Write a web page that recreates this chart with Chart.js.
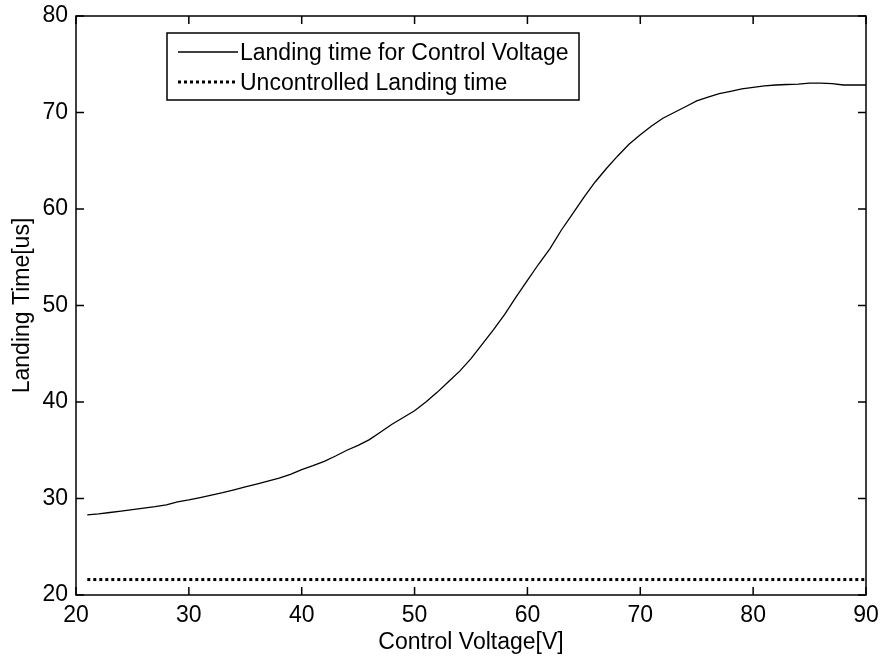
<!DOCTYPE html>
<html lang="en">

<head>
    <meta charset="UTF-8">
    <title>Landing time vs control voltage</title>
    <script src="https://cdn.jsdelivr.net/npm/chart.js"></script>
    <style>
        html, body {
            margin: 0;
            padding: 0;
            background: #fff;
        }

        #contenedor {
            width: 882px;
            height: 659px;
        }
    </style>
</head>

<body>
    <div id="contenedor">
        <canvas id="canvas" width="882" height="659"></canvas>
    </div>

    <script>
        // control voltage [V]
        const voltaje = [21, 22, 23, 24, 25, 26, 27, 28, 29, 30,
            31, 32, 33, 34, 35, 36, 37, 38, 39, 40,
            41, 42, 43, 44, 45, 46, 47, 48, 49, 50,
            51, 52, 53, 54, 55, 56, 57, 58, 59, 60,
            61, 62, 63, 64, 65, 66, 67, 68, 69, 70,
            71, 72, 73, 74, 75, 76, 77, 78, 79, 80,
            81, 82, 83, 84, 85, 86, 87, 88, 89, 90]
        // landing time [us] for each control voltage
        const tiempoControl = [28.3, 28.4, 28.55, 28.7, 28.85, 29.0, 29.15, 29.35, 29.65, 29.85,
            30.1, 30.35, 30.6, 30.9, 31.2, 31.5, 31.8, 32.1, 32.5, 33.0,
            33.4, 33.85, 34.4, 35.0, 35.5, 36.1, 36.9, 37.7, 38.4, 39.1,
            40.0, 41.0, 42.1, 43.2, 44.5, 46.0, 47.5, 49.1, 50.9, 52.6,
            54.3, 55.9, 57.8, 59.5, 61.2, 62.8, 64.2, 65.5, 66.7, 67.7,
            68.6, 69.4, 70.0, 70.6, 71.2, 71.6, 71.95, 72.2, 72.45, 72.6,
            72.75, 72.85, 72.9, 72.95, 73.05, 73.05, 73.0, 72.85, 72.85, 72.85]
        // uncontrolled landing time (constant)
        const voltajeSinControl = [21, 90]
        const tiempoSinControl = [21.6, 21.6]

        const ticksX = [20, 30, 40, 50, 60, 70, 80, 90]
        const ticksY = [20, 30, 40, 50, 60, 70, 80]

        const fuente = 'Arial, "Liberation Sans", sans-serif'
        const tam = 23

        function Puntos(xs, ys) {
            return xs.map((x, i) => ({ x: x, y: ys[i] }))
        }

        // frame + inward ticks on all four sides
        const marco = {
            id: 'marco',
            afterDraw(chart) {
                const c = chart.ctx
                const { left, right, top, bottom } = chart.chartArea
                const sx = chart.scales.x
                const sy = chart.scales.y
                const largo = 8
                c.save()
                c.strokeStyle = '#000'
                c.lineWidth = 1.5
                c.strokeRect(left, top, right - left, bottom - top)
                c.beginPath()
                ticksX.forEach(v => {
                    const px = sx.getPixelForValue(v)
                    c.moveTo(px, bottom); c.lineTo(px, bottom - largo)
                    c.moveTo(px, top); c.lineTo(px, top + largo)
                })
                ticksY.forEach(v => {
                    const py = sy.getPixelForValue(v)
                    c.moveTo(left, py); c.lineTo(left + largo, py)
                    c.moveTo(right, py); c.lineTo(right - largo, py)
                })
                c.stroke()
                c.restore()
            }
        }

        // boxed legend inside the plot, upper left
        const leyenda = {
            id: 'leyenda',
            afterDraw(chart) {
                const c = chart.ctx
                const { left, top } = chart.chartArea
                const bx = left + 91, by = top + 17, bw = 412, bh = 67
                c.save()
                c.fillStyle = '#fff'
                c.fillRect(bx, by, bw, bh)
                c.strokeStyle = '#000'
                c.lineWidth = 1.5
                c.strokeRect(bx, by, bw, bh)
                c.font = tam + 'px ' + fuente
                c.textBaseline = 'middle'
                chart.data.datasets.forEach((ds, i) => {
                    const fy = by + 19 + i * 30
                    c.beginPath()
                    c.lineWidth = ds.borderWidth
                    c.setLineDash(ds.borderDash || [])
                    c.strokeStyle = ds.borderColor
                    c.moveTo(bx + 11, fy)
                    c.lineTo(bx + 71, fy)
                    c.stroke()
                    c.setLineDash([])
                    c.fillStyle = '#000'
                    c.fillText(ds.label, bx + 73, fy + 2)
                })
                c.restore()
            }
        }

        const ctx = document.getElementById('canvas')
        let graph
        CrearGraph()

        function CrearGraph() {
            graph = new Chart(ctx, {
                type: 'line',
                data: {
                    datasets: [{
                        label: 'Landing time for Control Voltage',
                        data: Puntos(voltaje, tiempoControl),
                        borderColor: '#000',
                        borderWidth: 1.3,
                        pointRadius: 0,
                        tension: 0
                    }, {
                        label: 'Uncontrolled Landing time',
                        data: Puntos(voltajeSinControl, tiempoSinControl),
                        borderColor: '#000',
                        borderWidth: 3,
                        borderDash: [3, 3],
                        pointRadius: 0
                    }]
                },
                options: {
                    responsive: false,
                    animation: false,
                    layout: {
                        padding: { left: 0, top: 16, right: 16, bottom: 0 }
                    },
                    plugins: {
                        legend: { display: false },
                        tooltip: { enabled: false }
                    },
                    scales: {
                        x: {
                            type: 'linear',
                            min: 20,
                            max: 90,
                            afterFit: s => {
                                s.height = 64
                                s.paddingLeft = 0
                                s.paddingRight = 0
                            },
                            afterBuildTicks: s => { s.ticks = ticksX.map(v => ({ value: v })) },
                            grid: { display: false, drawTicks: false },
                            border: { display: false },
                            ticks: {
                                color: '#000',
                                padding: 7,
                                maxRotation: 0,
                                font: { family: fuente, size: tam }
                            },
                            title: {
                                display: true,
                                text: 'Control Voltage[V]',
                                color: '#000',
                                padding: { top: 0, bottom: 3 },
                                font: { family: fuente, size: tam }
                            }
                        },
                        y: {
                            min: 20,
                            max: 80,
                            afterFit: s => {
                                s.width = 76
                                s.paddingTop = 0
                                s.paddingBottom = 0
                            },
                            afterBuildTicks: s => { s.ticks = ticksY.map(v => ({ value: v })) },
                            grid: { display: false, drawTicks: false },
                            border: { display: false },
                            ticks: {
                                color: '#000',
                                padding: 8,
                                font: { family: fuente, size: tam }
                            },
                            title: {
                                display: true,
                                text: 'Landing Time[us]',
                                color: '#000',
                                padding: { top: 9, bottom: 0 },
                                font: { family: fuente, size: tam }
                            }
                        }
                    }
                },
                plugins: [marco, leyenda]
            })
        }
    </script>

</body>

</html>
